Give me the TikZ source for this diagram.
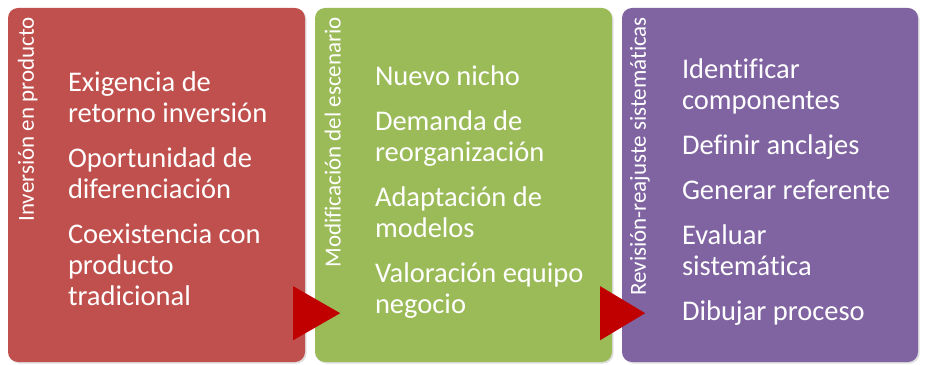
\documentclass[tikz,border=0pt]{standalone}
\usepackage{fontspec}
\setmainfont[Ligatures=NoCommon]{Carlito}
\usetikzlibrary{calc,positioning,shadows}
\definecolor{brick}{HTML}{C0504D}
\definecolor{olive}{HTML}{9BBB59}
\definecolor{violet}{HTML}{8064A2}
\definecolor{arrowred}{HTML}{C00000}
\tikzset{
  every node/.style={inner sep=0pt,text=white},
  stage/.style={rounded corners=10pt,minimum width=297pt,minimum height=354pt,
    drop shadow={opacity=.25,shadow xshift=1.5pt,shadow yshift=-1.5pt}},
  vlabel/.style={rotate=90,anchor=east,font=\fontsize{23}{26}\selectfont},
  items/.style={anchor=north west,align=left,font=\fontsize{28.5}{31}\selectfont},
  flowtip/.style={fill=arrowred},
}
\begin{document}
\begin{tikzpicture}[x=1pt,y=1pt]
\path[use as bounding box,fill=white] (0,0) rectangle (925,364);
% three stages, left to right
\node[stage,fill=brick] (inv) at (156.5,179) {};
\node[stage,fill=olive] (mod) at (463.5,179) {};
\node[stage,fill=violet,minimum width=296pt] (rev) at (770,179) {};
% side titles
\node[vlabel] (invtitle) at ([xshift=20pt,yshift=-9pt]inv.north west) {Inversión en producto};
\node[vlabel] (modtitle) at ([xshift=18pt,yshift=-9pt]mod.north west) {Modificación del escenario};
\node[vlabel] (revtitle) at ([xshift=18pt,yshift=-9pt]rev.north west) {Revisión-reajuste sistemáticas};
% bullet texts
\node[items] (invtext) at ([xshift=60pt,yshift=-64pt]inv.north west)
  {Exigencia de\\retorno inversión\\[14pt]Oportunidad de\\diferenciación\\[14pt]Coexistencia con\\producto\\tradicional};
\node[items] (modtext) at ([xshift=60pt,yshift=-58pt]mod.north west)
  {Nuevo nicho\\[14pt]Demanda de\\reorganización\\[14pt]Adaptación de\\modelos\\[14pt]Valoración equipo\\negocio};
\node[items] (revtext) at ([xshift=60pt,yshift=-51pt]rev.north west)
  {Identificar\\componentes\\[14pt]Definir anclajes\\[14pt]Generar referente\\[14pt]Evaluar\\sistemática\\[14pt]Dibujar proceso};
% red triangles between stages
\fill[flowtip] ($(inv.south east)+(-12,22)$) -- ++(0,54) -- ++(47,-27) -- cycle;
\fill[flowtip] ($(mod.south east)+(-12,22)$) -- ++(0,54) -- ++(45,-27) -- cycle;
\end{tikzpicture}
\end{document}
